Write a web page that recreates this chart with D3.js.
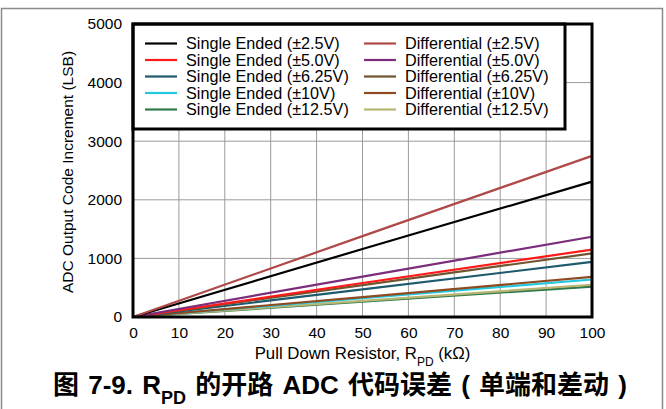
<!DOCTYPE html>
<html>
<head>
<meta charset="utf-8">
<script src="https://cdn.jsdelivr.net/npm/d3@7"></script>
<style>
  body { margin: 0; background: #fff; }
  svg { display: block; font-family: "Liberation Sans", Arial, sans-serif; }
</style>
</head>
<body>
<div id="chart"></div>
<script>
// RPD open-circuit ADC code error, single ended and differential
const resistorKOhm = [0, 50, 100];
const seriesNames = [
  "Single Ended (±2.5V)", "Single Ended (±5.0V)", "Single Ended (±6.25V)",
  "Single Ended (±10V)", "Single Ended (±12.5V)",
  "Differential (±2.5V)", "Differential (±5.0V)", "Differential (±6.25V)",
  "Differential (±10V)", "Differential (±12.5V)"
];
const seriesValues = [
  [0, 1160, 2310],
  [0, 580, 1150],
  [0, 470, 940],
  [0, 320, 640],
  [0, 260, 520],
  [0, 1380, 2750],
  [0, 690, 1370],
  [0, 545, 1085],
  [0, 340, 685],
  [0, 275, 550]
];
const seriesColors = [
  "#000000", "#ff1a1a", "#1d5a6c", "#22c8e0", "#2f7a4c",
  "#b04848", "#7b2d7b", "#6f5430", "#8e4a20", "#b8b672"
];
const xTicks = d3.range(0, 101, 10);
const yTicks = d3.range(0, 5001, 1000);

const W = 666, H = 409;
const margin = { top: 24, right: 74, bottom: 92, left: 133 };
const innerW = W - margin.left - margin.right;
const innerH = H - margin.top - margin.bottom;

const svg = d3.select("#chart").append("svg")
  .attr("width", W).attr("height", H);

// outer frame
svg.append("rect")
  .attr("x", 1.5).attr("y", 8.5)
  .attr("width", 661).attr("height", 410)
  .attr("fill", "none").attr("stroke", "#8a8a8a").attr("stroke-width", 1.5);

const g = svg.append("g")
  .attr("transform", `translate(${margin.left},${margin.top})`);

const x = d3.scaleLinear().domain([0, 100]).range([0, innerW]);
const y = d3.scaleLinear().domain([0, 5000]).range([innerH, 0]);

// grid
g.append("g")
  .selectAll("line")
  .data(xTicks.slice(1, -1))
  .join("line")
  .attr("x1", d => x(d)).attr("x2", d => x(d))
  .attr("y1", 0).attr("y2", innerH)
  .attr("stroke", "#9a9a9a").attr("stroke-width", 1);
g.append("g")
  .selectAll("line")
  .data(yTicks.slice(1, -1))
  .join("line")
  .attr("x1", 0).attr("x2", innerW)
  .attr("y1", d => y(d)).attr("y2", d => y(d))
  .attr("stroke", "#9a9a9a").attr("stroke-width", 1);

// axes (labels only)
const xAxis = g.append("g")
  .attr("transform", `translate(0,${innerH})`)
  .call(d3.axisBottom(x).tickValues(xTicks).tickSize(0).tickPadding(10).tickFormat(d3.format("d")));
const yAxis = g.append("g")
  .call(d3.axisLeft(y).tickValues(yTicks).tickSize(0).tickPadding(11).tickFormat(d3.format("d")));
[xAxis, yAxis].forEach(a => {
  a.select(".domain").remove();
  a.selectAll("text")
    .style("font-family", "'Liberation Sans', Arial, sans-serif")
    .style("font-size", "15.5px")
    .attr("fill", "#000");
});

// lines
const line = d3.line()
  .x((d, i) => x(resistorKOhm[i]))
  .y(d => y(d));

const order = [4, 9, 3, 8, 2, 7, 1, 6, 0, 5];
g.append("g")
  .selectAll("path")
  .data(order)
  .join("path")
  .attr("d", i => line(seriesValues[i]))
  .attr("fill", "none")
  .attr("stroke", i => seriesColors[i])
  .attr("stroke-width", 2.2);

// legend box
const legW = 432, legH = 105;
g.append("rect")
  .attr("x", 0).attr("y", 0)
  .attr("width", legW).attr("height", legH)
  .attr("fill", "#fff").attr("stroke", "#000").attr("stroke-width", 3);

const legend = g.append("g");
seriesNames.forEach((name, i) => {
  const col = i < 5 ? 0 : 1;
  const row = i % 5;
  const lx = col === 0 ? 12 : 231;
  const ly = 19.5 + row * 16.5;
  legend.append("line")
    .attr("x1", lx).attr("x2", lx + 32)
    .attr("y1", ly).attr("y2", ly)
    .attr("stroke", seriesColors[i]).attr("stroke-width", 2.2);
  legend.append("text")
    .attr("x", lx + 41).attr("y", ly)
    .attr("dy", "0.35em")
    .style("font-size", "16.2px")
    .text(name);
});

// plot frame
g.append("rect")
  .attr("x", 0).attr("y", 0)
  .attr("width", innerW).attr("height", innerH)
  .attr("fill", "none").attr("stroke", "#000").attr("stroke-width", 3);

// axis titles
g.append("text")
  .attr("x", innerW / 2).attr("y", innerH + 36)
  .attr("dy", "0.35em")
  .attr("text-anchor", "middle")
  .style("font-size", "16.8px")
  .html('Pull Down Resistor, R<tspan baseline-shift="sub" font-size="12px">PD</tspan> (kΩ)');

g.append("text")
  .attr("transform", "rotate(-90)")
  .attr("x", -148).attr("y", -65)
  .attr("dy", "0.35em")
  .attr("text-anchor", "middle")
  .style("font-size", "15.5px")
  .text("ADC Output Code Increment (LSB)");

// caption
svg.append("text")
  .attr("x", 340).attr("y", 385)
  .attr("dy", "0.35em")
  .attr("text-anchor", "middle")
  .style("font-family", "'Liberation Sans', 'Noto Sans CJK SC', sans-serif")
  .style("font-size", "26px")
  .style("font-weight", "bold")
  .style("word-spacing", "2px")
  .html('图 7-9. R<tspan baseline-shift="sub" font-size="18px">PD</tspan> 的开路 ADC 代码误差 ( 单端和差动 )');
</script>
</body>
</html>
